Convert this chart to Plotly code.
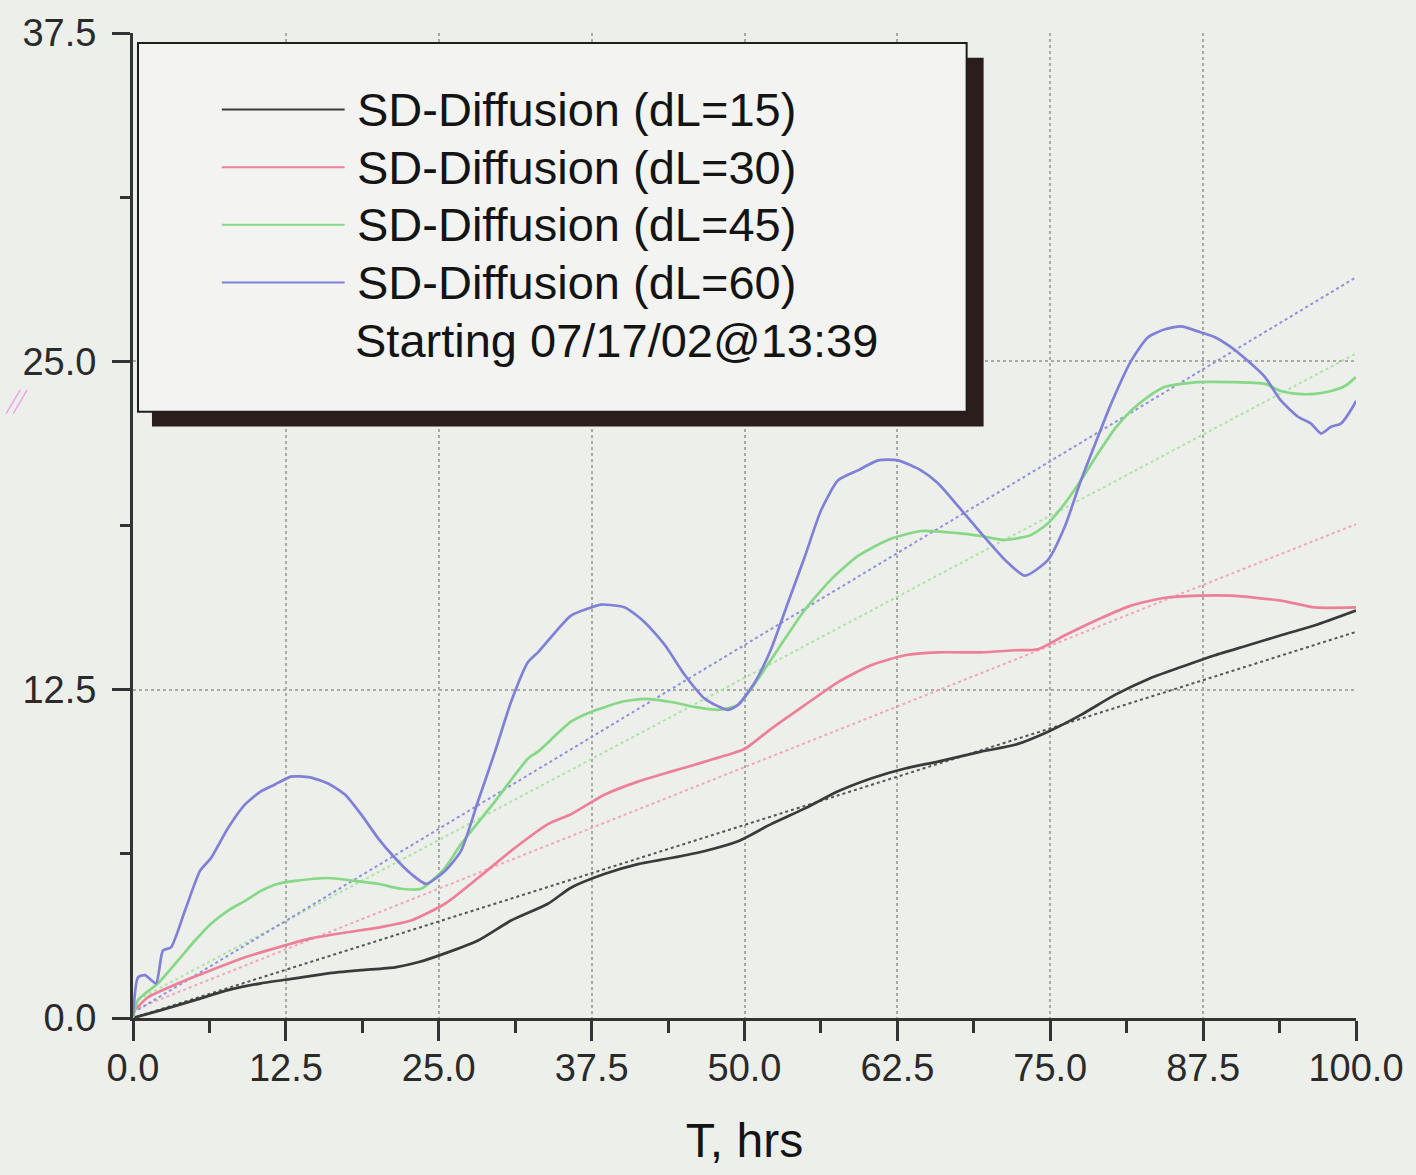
import plotly.graph_objects as go

# Elapsed time (hours) and SD-Diffusion readings for each dL setting
t_dl15 = [0, 2.29, 5.07, 7.77, 10.47, 13.25, 15.94, 18.64, 21.42, 23.30, 25.51, 28.21, 30.91,
          33.93, 35.81, 38.59, 41.29, 43.99, 46.77, 49.47, 52.17, 54.95, 57.65, 60.34, 63.12,
          65.82, 69.34, 72.12, 74.82, 77.51, 80.29, 82.99, 85.69, 88.47, 91.17, 93.87, 96.65, 100]
v_dl15 = [0, 0.30, 0.68, 1.06, 1.32, 1.51, 1.70, 1.82, 1.93, 2.12, 2.46, 2.95, 3.71,
          4.35, 4.96, 5.49, 5.86, 6.09, 6.36, 6.73, 7.38, 7.98, 8.63, 9.12, 9.50,
          9.76, 10.14, 10.40, 10.90, 11.54, 12.30, 12.90, 13.36, 13.81, 14.19, 14.57, 14.95, 15.51]

t_dl30 = [0, 1.23, 3.68, 6.38, 9.16, 11.86, 14.55, 17.33, 20.03, 22.73, 25.51, 28.21, 30.91,
          33.93, 35.81, 38.59, 41.29, 43.99, 46.77, 48.90, 50.04, 52.17, 54.95, 57.65, 60.34,
          63.12, 65.82, 69.34, 72.12, 74.00, 76.21, 78.90, 81.60, 84.38, 87.08, 89.78, 93.87,
          96.65, 100]
v_dl30 = [0.23, 0.79, 1.32, 1.82, 2.31, 2.69, 3.03, 3.25, 3.44, 3.71, 4.35, 5.33, 6.36,
          7.38, 7.76, 8.51, 9.00, 9.38, 9.76, 10.06, 10.25, 11.01, 11.92, 12.79, 13.43,
          13.81, 13.92, 13.92, 14.00, 14.04, 14.57, 15.17, 15.70, 16.00, 16.08, 16.08, 15.89,
          15.63, 15.63]

t_dl45 = [0, 0.41, 2.04, 3.68, 5.07, 6.38, 7.77, 9.16, 10.47, 11.86, 13.25, 15.94, 18.15,
          20.03, 21.91, 23.55, 25.51, 26.82, 29.60, 32.30, 33.11, 35.81, 37.45, 39.90, 41.86,
          43.99, 45.95, 47.83, 49.47, 51.10, 52.74, 54.95, 57.07, 59.28, 61.73, 64.43, 67.46,
          69.34, 71.30, 73.43, 74.82, 76.21, 77.51, 78.90, 80.29, 81.60, 82.99, 84.38, 85.69,
          87.08, 89.78, 92.56, 93.87, 95.26, 96.65, 97.96, 99.10, 100]
v_dl45 = [0, 0.68, 1.32, 2.19, 2.95, 3.59, 4.09, 4.46, 4.84, 5.11, 5.22, 5.33, 5.22,
          5.11, 4.92, 4.92, 5.71, 6.62, 8.25, 9.88, 10.14, 11.28, 11.65, 12.03, 12.15,
          12.03, 11.84, 11.73, 11.92, 12.90, 14.04, 15.55, 16.69, 17.59, 18.20, 18.54, 18.46,
          18.35, 18.20, 18.39, 18.84, 19.60, 20.47, 21.49, 22.44, 23.12, 23.65, 24.03, 24.14,
          24.21, 24.21, 24.14, 23.87, 23.76, 23.76, 23.87, 24.06, 24.40]

t_dl60 = [0, 0.41, 0.98, 1.88, 2.45, 3.11, 4.25, 5.48, 6.38, 7.77, 9.16, 10.46, 11.61,
          12.92, 14.47, 15.94, 17.33, 18.64, 20.03, 21.42, 22.73, 23.96, 25.51, 26.82, 28.21,
          29.60, 30.91, 32.30, 33.11, 35.81, 37.45, 38.27, 40.23, 41.86, 43.50, 45.13, 46.77,
          48.65, 49.47, 50.86, 52.17, 53.56, 54.95, 56.26, 57.65, 59.28, 60.92, 62.55, 64.43,
          65.82, 67.46, 69.34, 71.30, 72.93, 74.82, 76.21, 77.51, 78.90, 79.97, 81.60, 82.99,
          84.38, 85.69, 87.08, 88.47, 89.78, 91.17, 92.56, 93.87, 95.26, 96.32, 97.14, 97.96,
          98.77, 99.75, 100]
v_dl60 = [0.08, 1.55, 1.63, 1.32, 2.57, 2.69, 4.09, 5.60, 6.09, 7.23, 8.13, 8.63, 8.89,
          9.19, 9.16, 8.93, 8.51, 7.76, 6.85, 6.09, 5.49, 5.11, 5.60, 6.36, 8.25,
          10.14, 12.03, 13.55, 13.92, 15.32, 15.63, 15.74, 15.63, 15.06, 14.19, 13.05, 12.15,
          11.73, 11.92, 12.79, 14.04, 15.82, 17.59, 19.33, 20.47, 20.85, 21.23, 21.23, 20.85,
          20.36, 19.49, 18.46, 17.44, 16.84, 17.44, 18.73, 20.47, 22.13, 23.38, 25.01, 25.92,
          26.22, 26.33, 26.14, 25.92, 25.54, 25.01, 24.40, 23.50, 22.89, 22.63, 22.25, 22.51,
          22.63, 23.27, 23.50]

# Linear trend lines (end points at 0 h and 100 h)
fit_t = [0, 100]
fit_dl15 = [0.0, 14.7]
fit_dl30 = [0.3, 18.8]
fit_dl45 = [0.6, 25.3]
fit_dl60 = [0.2, 28.2]

series_names = ["SD-Diffusion (dL=15)", "SD-Diffusion (dL=30)",
                "SD-Diffusion (dL=45)", "SD-Diffusion (dL=60)"]
start_note = "Starting 07/17/02@13:39"

x_ticks = [0, 12.5, 25, 37.5, 50, 62.5, 75, 87.5, 100]
y_ticks = [0, 12.5, 25, 37.5]

colors = ["#3a3a3a", "#ee7f98", "#86d886", "#7f80d6"]
fit_colors = ["#555555", "#f2a6b8", "#aee2a6", "#8f90dd"]

W, H = 1416, 1175
L, R, T, B = 133, 58, 27, 157
PW, PH = W - L - R, H - T - B


def px(xp):
    return (xp - L) / PW


def py(yp):
    return (H - B - yp) / PH


fig = go.Figure()

fits = [fit_dl15, fit_dl30, fit_dl45, fit_dl60]
for f, c in zip(fits, fit_colors):
    fig.add_trace(go.Scatter(x=fit_t, y=f, mode="lines",
                             line=dict(color=c, width=2, dash="dot"),
                             showlegend=False, hoverinfo="skip"))

data = [(t_dl15, v_dl15), (t_dl30, v_dl30), (t_dl45, v_dl45), (t_dl60, v_dl60)]
for (t, v), c, name in zip(data, colors, series_names):
    fig.add_trace(go.Scatter(x=t, y=v, mode="lines", name=name,
                             line=dict(color=c, width=2.7, shape="spline", smoothing=0.6),
                             showlegend=False))

font_main = "Liberation Sans, Arial, sans-serif"
ink = "#2a2a2a"
text_ink = "#141414"

shapes = []
# legend shadow and frame
shapes.append(dict(type="rect", xref="paper", yref="paper",
                   x0=px(152), x1=px(985), y0=py(423), y1=py(52),
                   fillcolor="#2b1d1b", line=dict(width=0), layer="above"))
shapes.append(dict(type="rect", xref="paper", yref="paper",
                   x0=px(138), x1=px(968), y0=py(408), y1=py(37),
                   fillcolor="#f3f4f1", line=dict(color="#1e1e1e", width=2), layer="above"))
annotations = []
rows = [104, 162, 220, 278]
for yy, c, name in zip(rows, colors, series_names):
    shapes.append(dict(type="line", xref="paper", yref="paper",
                       x0=px(222), x1=px(345), y0=py(yy), y1=py(yy),
                       line=dict(color=c, width=2), layer="above"))
    annotations.append(dict(xref="paper", yref="paper", x=px(355), y=py(yy),
                            text=name, showarrow=False, xanchor="left", yanchor="middle",
                            font=dict(family=font_main, size=47, color=text_ink)))
annotations.append(dict(xref="paper", yref="paper", x=px(353), y=py(336),
                        text=start_note, showarrow=False, xanchor="left", yanchor="middle",
                        font=dict(family=font_main, size=47, color=text_ink)))

# small pen strokes beside the y axis
for dx in (0, 7):
    shapes.append(dict(type="line", xref="paper", yref="paper",
                       x0=px(6 + dx), x1=px(20 + dx), y0=py(410), y1=py(386),
                       line=dict(color="#e9a6e6", width=1.5)))

fig.update_layout(
    width=W, height=H,
    margin=dict(l=L, r=R, t=T, b=B),
    paper_bgcolor="#edefeb",
    plot_bgcolor="#edefeb",
    font=dict(family=font_main, color=ink),
    shapes=shapes,
    annotations=annotations,
    showlegend=False,
)

fig.update_xaxes(
    range=[0, 100], tickvals=x_ticks, ticktext=[f"{v:.1f}" for v in x_ticks],
    showline=True, linecolor="#333333", linewidth=3,
    ticks="outside", ticklen=20, tickwidth=3, tickcolor="#333333",
    tickfont=dict(size=38, color=ink), ticklabelstandoff=-6,
    showgrid=True, gridcolor="#a9aba7", griddash="dot", gridwidth=1.5,
    zeroline=False,
    minor=dict(dtick=6.25, ticks="outside", ticklen=12, tickwidth=3,
               tickcolor="#333333", showgrid=False),
    title=dict(text="T, hrs", font=dict(size=48, color=text_ink), standoff=36),
)
fig.update_yaxes(
    range=[0, 37.5], tickvals=y_ticks, ticktext=[f"{v:.1f}" for v in y_ticks],
    showline=True, linecolor="#333333", linewidth=3,
    ticks="outside", ticklen=18, tickwidth=3, tickcolor="#333333",
    tickfont=dict(size=38, color=ink), ticklabelstandoff=8,
    showgrid=True, gridcolor="#a9aba7", griddash="dot", gridwidth=1.5,
    zeroline=False,
    minor=dict(dtick=6.25, ticks="outside", ticklen=10, tickwidth=3,
               tickcolor="#333333", showgrid=False),
)

fig.write_html("out.html")
